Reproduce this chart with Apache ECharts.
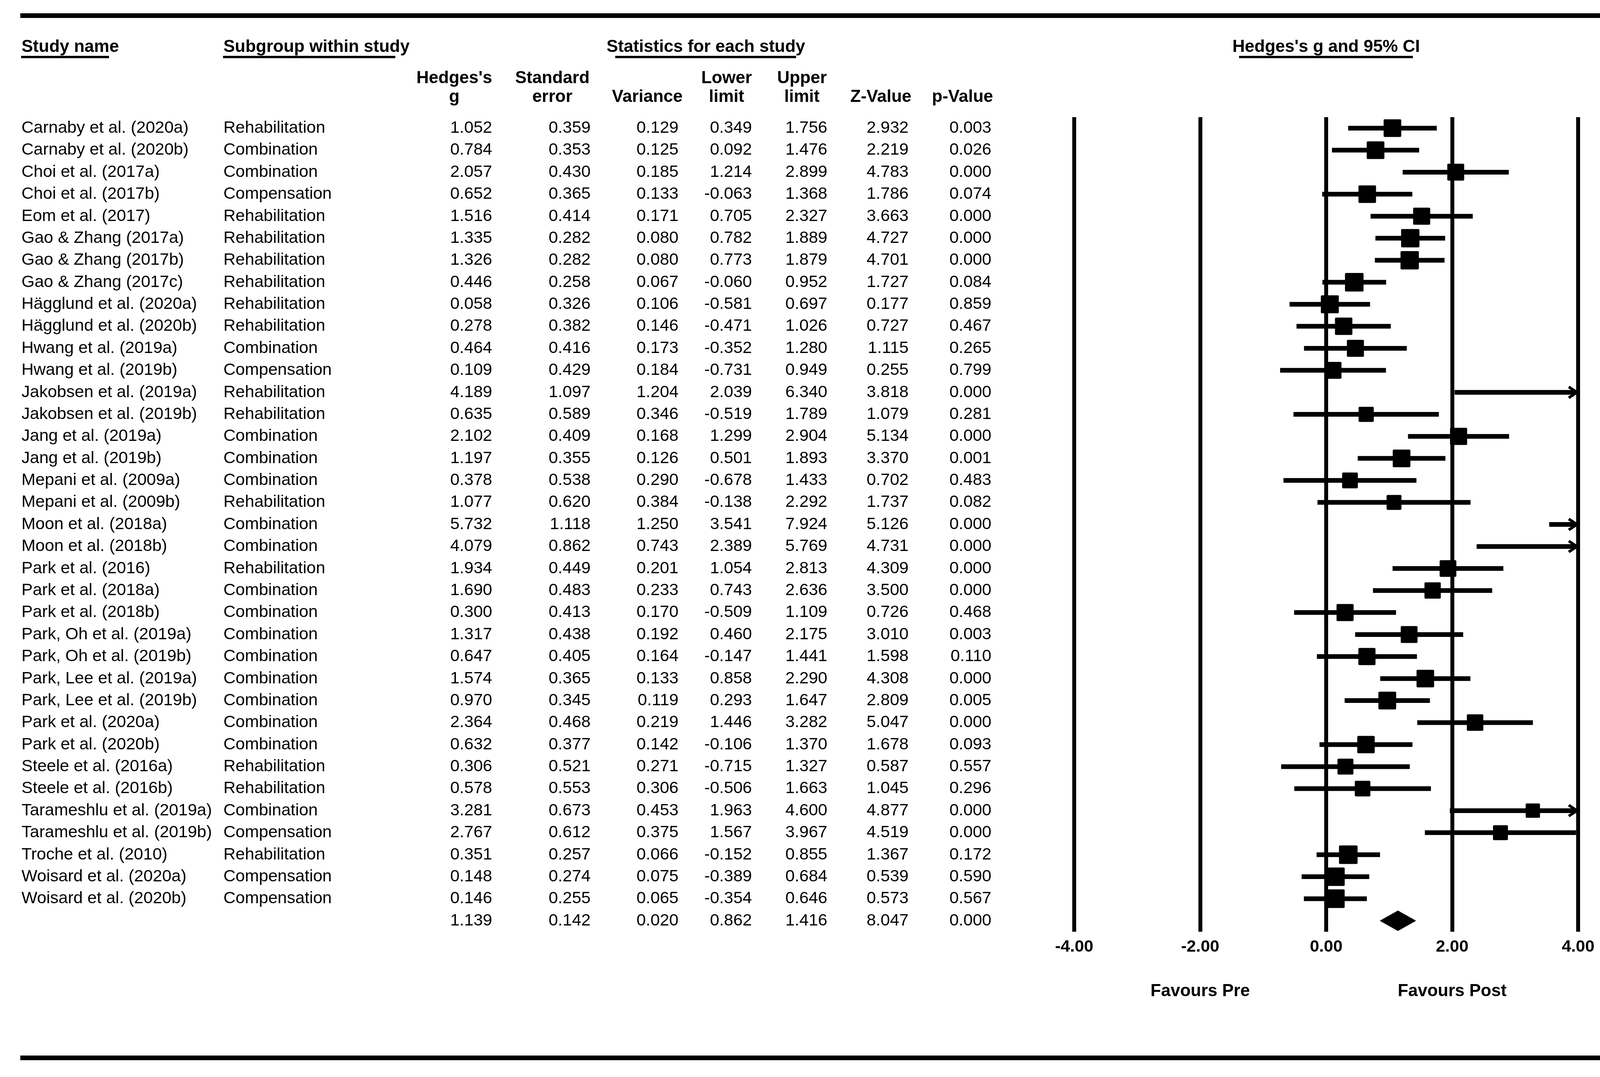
<!DOCTYPE html>
<html><head><meta charset="utf-8">
<script src="https://cdn.jsdelivr.net/npm/echarts/dist/echarts.min.js"></script>
<style>html,body{margin:0;padding:0;background:#fff}#c{width:4255px;height:2758px}</style>
</head><body><div id="c"></div>
<script>
const studies = ["Carnaby et al. (2020a)","Carnaby et al. (2020b)","Choi et al. (2017a)","Choi et al. (2017b)","Eom et al. (2017)","Gao & Zhang (2017a)","Gao & Zhang (2017b)","Gao & Zhang (2017c)","Hägglund et al. (2020a)","Hägglund et al. (2020b)","Hwang et al. (2019a)","Hwang et al. (2019b)","Jakobsen et al. (2019a)","Jakobsen et al. (2019b)","Jang et al. (2019a)","Jang et al. (2019b)","Mepani et al. (2009a)","Mepani et al. (2009b)","Moon et al. (2018a)","Moon et al. (2018b)","Park et al. (2016)","Park et al. (2018a)","Park et al. (2018b)","Park, Oh et al. (2019a)","Park, Oh et al. (2019b)","Park, Lee et al. (2019a)","Park, Lee et al. (2019b)","Park et al. (2020a)","Park et al. (2020b)","Steele et al. (2016a)","Steele et al. (2016b)","Tarameshlu et al. (2019a)","Tarameshlu et al. (2019b)","Troche et al. (2010)","Woisard et al. (2020a)","Woisard et al. (2020b)"];
const subgroups = ["Rehabilitation","Combination","Combination","Compensation","Rehabilitation","Rehabilitation","Rehabilitation","Rehabilitation","Rehabilitation","Rehabilitation","Combination","Compensation","Rehabilitation","Rehabilitation","Combination","Combination","Combination","Rehabilitation","Combination","Combination","Rehabilitation","Combination","Combination","Combination","Combination","Combination","Combination","Combination","Combination","Rehabilitation","Rehabilitation","Combination","Compensation","Rehabilitation","Compensation","Compensation"];
const hedgesG = [1.052,0.784,2.057,0.652,1.516,1.335,1.326,0.446,0.058,0.278,0.464,0.109,4.189,0.635,2.102,1.197,0.378,1.077,5.732,4.079,1.934,1.690,0.300,1.317,0.647,1.574,0.970,2.364,0.632,0.306,0.578,3.281,2.767,0.351,0.148,0.146];
const stdErr = [0.359,0.353,0.430,0.365,0.414,0.282,0.282,0.258,0.326,0.382,0.416,0.429,1.097,0.589,0.409,0.355,0.538,0.620,1.118,0.862,0.449,0.483,0.413,0.438,0.405,0.365,0.345,0.468,0.377,0.521,0.553,0.673,0.612,0.257,0.274,0.255];
const variance = [0.129,0.125,0.185,0.133,0.171,0.080,0.080,0.067,0.106,0.146,0.173,0.184,1.204,0.346,0.168,0.126,0.290,0.384,1.250,0.743,0.201,0.233,0.170,0.192,0.164,0.133,0.119,0.219,0.142,0.271,0.306,0.453,0.375,0.066,0.075,0.065];
const lowerLimit = [0.349,0.092,1.214,-0.063,0.705,0.782,0.773,-0.060,-0.581,-0.471,-0.352,-0.731,2.039,-0.519,1.299,0.501,-0.678,-0.138,3.541,2.389,1.054,0.743,-0.509,0.460,-0.147,0.858,0.293,1.446,-0.106,-0.715,-0.506,1.963,1.567,-0.152,-0.389,-0.354];
const upperLimit = [1.756,1.476,2.899,1.368,2.327,1.889,1.879,0.952,0.697,1.026,1.280,0.949,6.340,1.789,2.904,1.893,1.433,2.292,7.924,5.769,2.813,2.636,1.109,2.175,1.441,2.290,1.647,3.282,1.370,1.327,1.663,4.600,3.967,0.855,0.684,0.646];
const zValue = [2.932,2.219,4.783,1.786,3.663,4.727,4.701,1.727,0.177,0.727,1.115,0.255,3.818,1.079,5.134,3.370,0.702,1.737,5.126,4.731,4.309,3.500,0.726,3.010,1.598,4.308,2.809,5.047,1.678,0.587,1.045,4.877,4.519,1.367,0.539,0.573];
const pValue = [0.003,0.026,0.000,0.074,0.000,0.000,0.000,0.084,0.859,0.467,0.265,0.799,0.000,0.281,0.000,0.001,0.483,0.082,0.000,0.000,0.000,0.000,0.468,0.003,0.110,0.000,0.005,0.000,0.093,0.557,0.296,0.000,0.000,0.172,0.590,0.567];
// summary row: g, SE, variance, lower, upper, Z, p
const summaryStats = [1.139,0.142,0.020,0.862,1.416,8.047,0.000];
const axisMin = -4, axisMax = 4, axisStep = 2;
const headerLine1 = ["Hedges's","Standard","","Lower","Upper","",""];
const headerLine2 = ["g","error","Variance","limit","limit","Z-Value","p-Value"];

// ---- layout (pixels) ----
const FONT = '"Liberation Sans", Arial, Helvetica, sans-serif';
const FS = 43, FSB = 44;
const gridLeft = 2750, gridRight = 215, gridTop = 300, gridHeight = 2086;
const colRight = [1260,1512,1737,1925,2118,2326,2538];
const headCenter = [1163,1414,1657,1860,2053,2255,2464];
const N = studies.length;
const cats = studies.concat(['Overall']);

function txt(t, x, y, align, bold, size){
  return {type:'text', style:{text:t, x:x, y:y, align:align, verticalAlign:'middle',
    fontFamily:FONT, fontSize:size||(bold?FSB:FS), fontWeight:bold?'bold':'normal', fill:'#000'}};
}
function hline(x1,x2,y,w){
  return {type:'line', shape:{x1:x1,y1:y,x2:x2,y2:y}, style:{stroke:'#000', lineWidth:w, lineCap:'butt'}};
}

const chart = echarts.init(document.getElementById('c'), null, {renderer:'canvas', width:4255, height:2758});

const gridW = 4255 - gridLeft - gridRight;
function xPix(v){ return gridLeft + (v - axisMin) / (axisMax - axisMin) * gridW; }

const graphics = [
  hline(52, 4223, 40, 12),
  hline(52, 4223, 2709, 12),
  txt('Study name', 55, 121, 'left', true),
  hline(54, 279, 146, 6),
  txt('Subgroup within study', 572, 121, 'left', true),
  hline(571, 1012, 146, 6),
  txt('Statistics for each study', 1807, 121, 'center', true),
  hline(1575, 2038, 146, 6),
  txt("Hedges's g and 95% CI", xPix(0), 121, 'center', true),
  hline(3172, 3617, 146, 6),
  txt('Favours Pre', xPix(-2), 2539, 'center', true),
  txt('Favours Post', xPix(2), 2539, 'center', true)
];
headerLine1.forEach((h,k)=>{ if(h) graphics.push(txt(h, headCenter[k], 201, 'center', true)); });
headerLine2.forEach((h,k)=>{ graphics.push(txt(h, headCenter[k], 249, 'center', true)); });

const rowData = cats.map((c,i)=>[0,i]);

const option = {
  backgroundColor:'#fff',
  animation:false,
  grid:{left:gridLeft, right:gridRight, top:gridTop, height:gridHeight, containLabel:false, outerBoundsMode:'none'},
  xAxis:{type:'value', min:axisMin, max:axisMax, interval:axisStep,
    axisLine:{show:false}, axisTick:{show:false},
    axisLabel:{show:true, margin:18, color:'#000', fontFamily:FONT, fontSize:FS, fontWeight:'bold',
      formatter:v=>v.toFixed(2)},
    splitLine:{show:true, showMinLine:true, showMaxLine:true, lineStyle:{color:'#000', width:10, type:'solid'}}},
  yAxis:{type:'category', data:cats, inverse:true, boundaryGap:true,
    axisLine:{show:false}, axisTick:{show:false}, axisLabel:{show:false}, splitLine:{show:false}},
  graphic:graphics,
  series:[
    { // table text
      type:'custom', name:'table', data:rowData, clip:false, silent:true,
      renderItem:function(params, api){
        const i = params.dataIndex;
        const y = api.coord([0, i])[1];
        const ch = [];
        const vals = i < N ? [hedgesG[i], stdErr[i], variance[i], lowerLimit[i], upperLimit[i], zValue[i], pValue[i]] : summaryStats;
        if (i < N){
          ch.push(txt(studies[i], 55, y, 'left', false));
          ch.push(txt(subgroups[i], 572, y, 'left', false));
        }
        vals.forEach((v,k)=>ch.push(txt(v.toFixed(3), colRight[k], y, 'right', false)));
        return {type:'group', children:ch};
      }
    },
    { // CI lines, arrows, squares
      type:'custom', name:'studies', data:studies.map((s,i)=>[hedgesG[i], i]), clip:false, silent:true,
      renderItem:function(params, api){
        const i = params.dataIndex;
        const lo = Math.max(lowerLimit[i], axisMin), hi = Math.min(upperLimit[i], axisMax);
        const p1 = api.coord([lo, i]), p2 = api.coord([hi, i]);
        const ch = [{type:'line', shape:{x1:p1[0], y1:p1[1], x2:p2[0], y2:p2[1]}, style:{stroke:'#000', lineWidth:12, lineCap:'butt'}}];
        if (upperLimit[i] > axisMax){
          ch.push({type:'polyline', shape:{points:[[p2[0]-24, p2[1]-14],[p2[0]-3, p2[1]],[p2[0]-24, p2[1]+14]]},
            style:{stroke:'#000', lineWidth:7, fill:null, lineJoin:'miter'}});
        }
        if (lowerLimit[i] < axisMin){
          ch.push({type:'polyline', shape:{points:[[p1[0]+24, p1[1]-14],[p1[0]+3, p1[1]],[p1[0]+24, p1[1]+14]]},
            style:{stroke:'#000', lineWidth:7, fill:null}});
        }
        const g = hedgesG[i];
        if (g >= axisMin && g <= axisMax){
          const c = api.coord([g, i]);
          const s = 35.8 / Math.sqrt(variance[i] + 0.5);
          ch.push({type:'rect', shape:{x:c[0]-s/2, y:c[1]-s/2, width:s, height:s, r:3}, style:{fill:'#000'}});
        }
        return {type:'group', children:ch};
      }
    },
    { // summary diamond
      type:'custom', name:'summary', data:[[summaryStats[0], N]], clip:false, silent:true,
      renderItem:function(params, api){
        const a = api.coord([summaryStats[3], N]), m = api.coord([summaryStats[0], N]), b = api.coord([summaryStats[4], N]);
        const h = 25;
        return {type:'polygon', shape:{points:[[a[0], a[1]],[m[0], m[1]-h],[b[0], b[1]],[m[0], m[1]+h]]},
          style:{fill:'#000', stroke:'#000', lineWidth:2, lineJoin:'round'}};
      }
    }
  ]
};
chart.setOption(option);
</script></body></html>
